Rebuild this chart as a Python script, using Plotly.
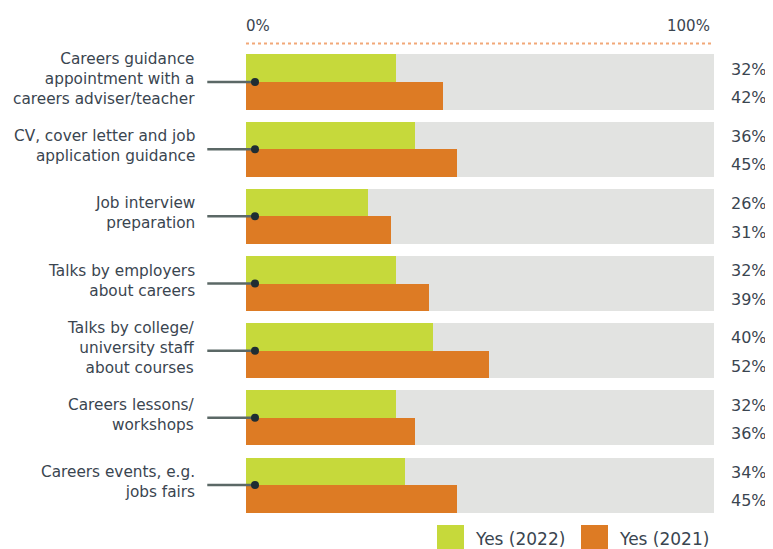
import plotly.graph_objects as go

categories = [
    "Careers guidance<br>appointment with a<br>careers adviser/teacher",
    "CV, cover letter and job<br>application guidance",
    "Job interview<br>preparation",
    "Talks by employers<br>about careers",
    "Talks by college/<br>university staff<br>about courses",
    "Careers lessons/<br>workshops",
    "Careers events, e.g.<br>jobs fairs",
]
yes_2022 = [32, 36, 26, 32, 40, 32, 34]
yes_2021 = [42, 45, 31, 39, 52, 36, 45]
series_names = ["Yes (2022)", "Yes (2021)"]
axis_labels = ["0%", "100%"]

GREEN = "#c6d93b"
ORANGE = "#dd7b24"
GRAY = "#e2e3e1"
TEXT = "#3a4550"
FONT = "DejaVu Sans"

OFF = 8  # page body margin
W, H = 773 - OFF, 549 - OFF
L, R, T, B = 196, 59, 37, 27
XMIN, XMAX = -9, 100
YTOP, YBOT = -0.55, 6.55
BAR_H = 0.41

idx = list(range(len(categories)))

fig = go.Figure()
fig.add_trace(go.Bar(x=[100] * len(idx), y=idx, orientation="h", width=2 * BAR_H,
                     marker=dict(color=GRAY, line=dict(width=0)), hoverinfo="skip",
                     showlegend=False))
fig.add_trace(go.Bar(x=yes_2022, y=[i - BAR_H / 2 for i in idx], orientation="h",
                     width=BAR_H, marker=dict(color=GREEN, line=dict(width=0)),
                     name=series_names[0], showlegend=False))
fig.add_trace(go.Bar(x=yes_2021, y=[i + BAR_H / 2 for i in idx], orientation="h",
                     width=BAR_H, marker=dict(color=ORANGE, line=dict(width=0)),
                     name=series_names[1], showlegend=False))

LINE_X0, DOT_X = -8.3, 1.9
for i in idx:
    fig.add_trace(go.Scatter(x=[LINE_X0, DOT_X], y=[i, i], mode="lines",
                             line=dict(color="#5b6866", width=2.5),
                             hoverinfo="skip", showlegend=False))
fig.add_trace(go.Scatter(x=[DOT_X] * len(idx), y=idx, mode="markers",
                         marker=dict(color="#1f2d33", size=8),
                         hoverinfo="skip", showlegend=False, cliponaxis=False))

annotations = []
for i, c in enumerate(categories):
    annotations.append(dict(x=XMIN, y=i, xref="x", yref="y", text=c, showarrow=False,
                            xanchor="right", yanchor="middle", xshift=-7, yshift=3,
                            align="right", font=dict(family=FONT, size=15.3, color=TEXT)))
    annotations.append(dict(x=100, y=i - BAR_H / 2, xref="x", yref="y",
                            text=f"{yes_2022[i]}%", showarrow=False, xanchor="left",
                            yanchor="middle", xshift=15, yshift=-1,
                            font=dict(family=FONT, size=16, color=TEXT)))
    annotations.append(dict(x=100, y=i + BAR_H / 2, xref="x", yref="y",
                            text=f"{yes_2021[i]}%", showarrow=False, xanchor="left",
                            yanchor="middle", xshift=15, yshift=-2,
                            font=dict(family=FONT, size=16, color=TEXT)))

annotations.append(dict(x=0, y=1, xref="x", yref="paper", text=axis_labels[0],
                        showarrow=False, xanchor="left", yanchor="middle", yshift=19,
                        xshift=-2, font=dict(family=FONT, size=15, color=TEXT)))
annotations.append(dict(x=100, y=1, xref="x", yref="paper", text=axis_labels[1],
                        showarrow=False, xanchor="right", yanchor="middle", yshift=19,
                        xshift=-2, font=dict(family=FONT, size=15, color=TEXT)))


def px(xp):
    return (xp - OFF - L) / (W - L - R)


def py(yp):
    return (H - B - (yp - OFF)) / (H - T - B)


shapes = [
    dict(type="line", xref="paper", yref="paper", x0=px(246), x1=px(714),
         y0=py(43.5), y1=py(43.5), line=dict(color="#f2a878", width=2, dash="dot")),
    dict(type="rect", xref="paper", yref="paper", x0=px(437), x1=px(464),
         y0=py(525), y1=py(552), fillcolor=GREEN, line=dict(width=0)),
    dict(type="rect", xref="paper", yref="paper", x0=px(581), x1=px(608),
         y0=py(525), y1=py(552), fillcolor=ORANGE, line=dict(width=0)),
]
annotations.append(dict(x=px(473), y=py(539), xref="paper", yref="paper",
                        text=series_names[0], showarrow=False, xanchor="left",
                        yanchor="middle", font=dict(family=FONT, size=17, color=TEXT)))
annotations.append(dict(x=px(617), y=py(539), xref="paper", yref="paper",
                        text=series_names[1], showarrow=False, xanchor="left",
                        yanchor="middle", font=dict(family=FONT, size=17, color=TEXT)))

fig.update_layout(
    width=W, height=H,
    margin=dict(l=L, r=R, t=T, b=B, pad=0),
    paper_bgcolor="white", plot_bgcolor="white",
    barmode="overlay", bargap=0,
    xaxis=dict(range=[XMIN, XMAX], visible=False, fixedrange=True),
    yaxis=dict(range=[YBOT, YTOP], visible=False, fixedrange=True),
    annotations=annotations, shapes=shapes,
    font=dict(family=FONT, color=TEXT),
)

fig.write_html("out.html")
